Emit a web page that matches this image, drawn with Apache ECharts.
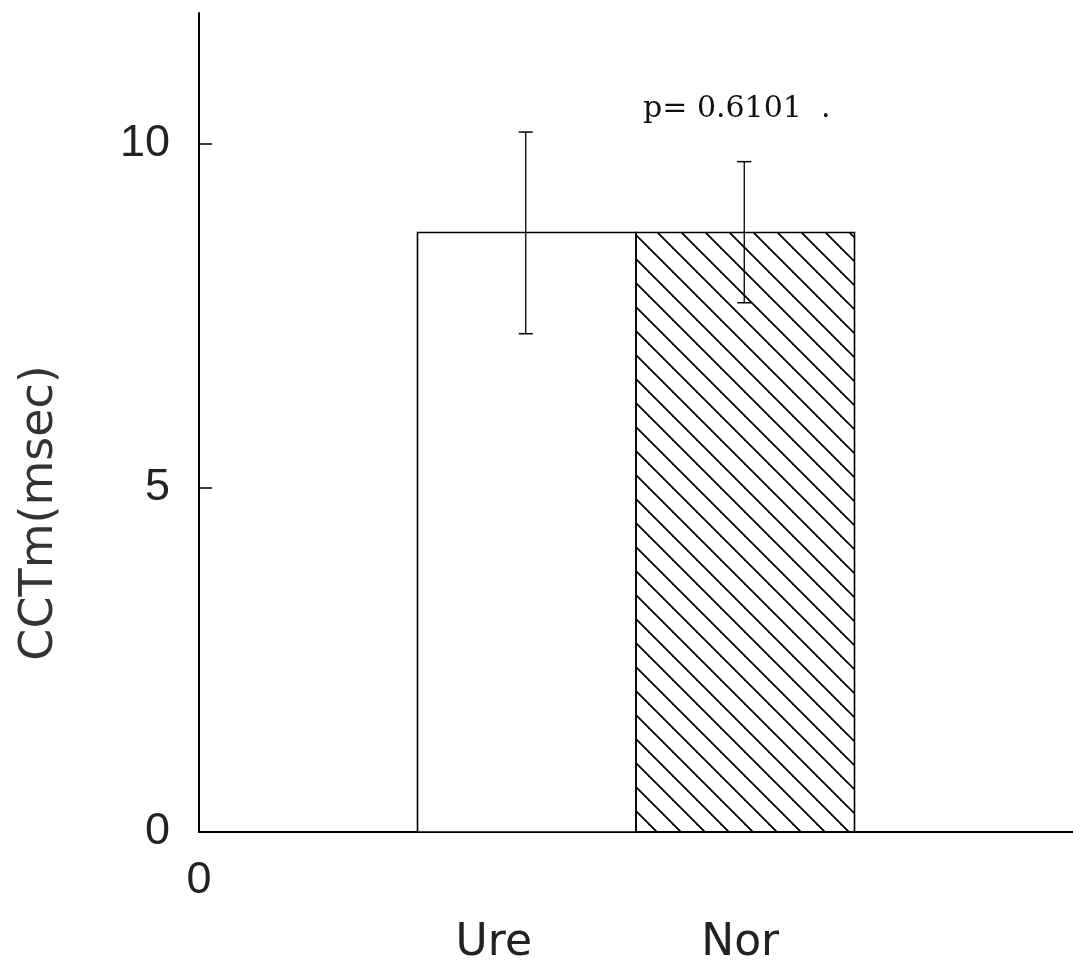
<!DOCTYPE html>
<html>
<head>
<meta charset="utf-8">
<script src="https://cdn.jsdelivr.net/npm/echarts@6/dist/echarts.min.js"></script>
<style>
html,body{margin:0;padding:0;background:#fff;}
#chart{width:1073px;height:971px;}
</style>
</head>
<body>
<div id="chart"></div>
<script>
// ---- data ----
var categories = ['Ure', 'Nor'];
var means = [8.71, 8.71];
var errLow = [7.24, 7.69];
var errHigh = [10.17, 9.74];
var yTickValues = [0, 5, 10];
var yAxisName = 'CCTm(msec)';
var pText = 'p= 0.6101  .';

// hatch pattern
var tile = document.createElement('canvas');
tile.width = 24; tile.height = 24;
var ctx = tile.getContext('2d');
ctx.strokeStyle = '#000';
ctx.lineWidth = 1.8;
[17, -7].forEach(function (c) {
  ctx.beginPath();
  ctx.moveTo(c - 3, -3);
  ctx.lineTo(c + 27, 27);
  ctx.stroke();
});
var fills = ['#ffffff', { image: tile, repeat: 'repeat' }];

var axisCats = [''].concat(categories).concat(['']);
var labelShift = { Ure: 66, Nor: 10 };

var chart = echarts.init(document.getElementById('chart'), null, { renderer: 'canvas' });
var option = {
  backgroundColor: '#ffffff',
  animation: false,
  grid: { left: 199, right: 0, top: 13, bottom: 139, containLabel: false },
  xAxis: [{
    type: 'category',
    data: axisCats,
    position: 'bottom',
    axisLine: { show: true, lineStyle: { color: '#000', width: 2 } },
    axisTick: { show: false },
    splitLine: { show: false },
    axisLabel: {
      interval: 0,
      margin: 90,
      formatter: function (v) {
        if (!v) return '';
        return '{' + v + '|' + v + '}';
      },
      rich: {
        Ure: { fontFamily: 'DejaVu Sans', fontSize: 44, color: '#222', padding: [0, labelShift.Ure, 0, 0], lineHeight: 44 },
        Nor: { fontFamily: 'DejaVu Sans', fontSize: 44, color: '#222', padding: [0, labelShift.Nor, 0, 0], lineHeight: 44 }
      }
    }
  }, {
    type: 'value',
    min: 0, max: 1,
    position: 'bottom',
    axisLine: { show: false },
    axisTick: { show: false },
    splitLine: { show: false },
    axisLabel: {
      customValues: [0],
      margin: 26,
      formatter: function (v) { return v === 0 ? '0' : ''; },
      fontFamily: 'Liberation Sans Narrow, Liberation Sans',
      fontSize: 45,
      color: '#222'
    }
  }],
  yAxis: {
    type: 'value',
    min: 0,
    max: 11.9,
    interval: 5,
    axisLine: { show: true, lineStyle: { color: '#000', width: 2 } },
    axisTick: { show: true, inside: true, length: 13, customValues: yTickValues, lineStyle: { color: '#000', width: 1.5 } },
    splitLine: { show: false },
    axisLabel: {
      customValues: yTickValues,
      margin: 29,
      fontFamily: 'Liberation Sans Narrow, Liberation Sans',
      fontSize: 45,
      color: '#222'
    }
  },
  series: [{
    type: 'custom',
    xAxisIndex: 0,
    yAxisIndex: 0,
    data: categories.map(function (c, i) { return [c, means[i], errLow[i], errHigh[i]]; }),
    encode: { x: 0, y: 1 },
    renderItem: function (params, api) {
      var idx = api.value(0);
      var bandW = api.size([1, 0])[0];
      var top = api.coord([idx, api.value(1)]);
      var base = api.coord([idx, 0]);
      var lo = api.coord([idx, api.value(2)]);
      var hi = api.coord([idx, api.value(3)]);
      var x0 = top[0] - bandW / 2;
      var cap = 7;
      var ex = top[0] - 1;
      return {
        type: 'group',
        children: [{
          type: 'rect',
          shape: { x: x0, y: top[1], width: bandW, height: base[1] - top[1] },
          style: { fill: fills[params.dataIndex], stroke: '#000', lineWidth: 1.6 }
        }, {
          type: 'line',
          shape: { x1: ex, y1: hi[1], x2: ex, y2: lo[1] },
          style: { stroke: '#000', lineWidth: 1.3 }
        }, {
          type: 'line',
          shape: { x1: ex - cap, y1: hi[1], x2: ex + cap, y2: hi[1] },
          style: { stroke: '#000', lineWidth: 1.5 }
        }, {
          type: 'line',
          shape: { x1: ex - cap, y1: lo[1], x2: ex + cap, y2: lo[1] },
          style: { stroke: '#000', lineWidth: 1.5 }
        }]
      };
    }
  }],
  graphic: [{
    type: 'text',
    left: 643,
    top: 94,
    style: { text: pText, fontFamily: 'DejaVu Serif', fontSize: 30, fill: '#111' }
  }, {
    type: 'text',
    x: 40,
    y: 513,
    rotation: Math.PI / 2,
    style: {
      text: yAxisName,
      fontFamily: 'DejaVu Sans',
      fontSize: 46,
      fill: '#333',
      align: 'center',
      verticalAlign: 'middle'
    }
  }]
};
chart.setOption(option);
</script>
</body>
</html>
